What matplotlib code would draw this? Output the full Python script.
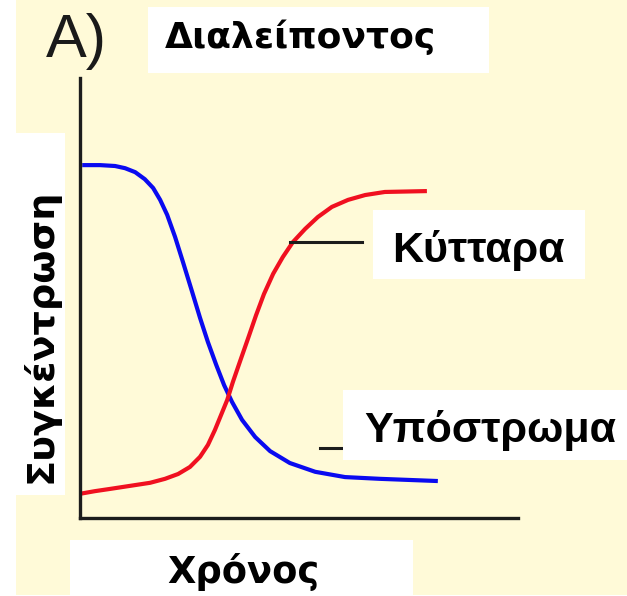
import numpy as np
import matplotlib
matplotlib.use("Agg")
import matplotlib.pyplot as plt
from matplotlib.patches import Rectangle

W, H = 627, 596

# Χρόνος (αυθαίρετες μονάδες) και συγκέντρωση
t_ypostroma = [0.05, 0.46, 0.80, 1.03, 1.26, 1.48, 1.67, 1.83, 1.99, 2.17,
               2.35, 2.56, 2.74, 2.92, 3.11, 3.29, 3.47, 3.70, 4.00, 4.34,
               4.79, 5.37, 6.05, 6.85, 8.17]
c_ypostroma = [8.02, 8.02, 8.00, 7.95, 7.86, 7.70, 7.50, 7.23, 6.89, 6.39,
               5.82, 5.14, 4.55, 4.00, 3.48, 3.02, 2.64, 2.23, 1.84, 1.52,
               1.25, 1.05, 0.93, 0.89, 0.84]

t_kyttara = [0.00, 0.34, 0.68, 1.14, 1.60, 1.94, 2.24, 2.51, 2.74, 2.92,
             3.08, 3.22, 3.36, 3.49, 3.65, 3.84, 4.02, 4.20, 4.41, 4.63,
             4.86, 5.14, 5.43, 5.75, 6.12, 6.51, 6.96, 7.92]
c_kyttara = [0.55, 0.61, 0.66, 0.73, 0.80, 0.89, 1.00, 1.16, 1.39, 1.66,
             2.00, 2.34, 2.68, 3.09, 3.55, 4.09, 4.61, 5.09, 5.55, 5.93,
             6.27, 6.57, 6.84, 7.07, 7.23, 7.34, 7.41, 7.43]

# γραμμές ένδειξης (x αρχή, x τέλος, y)
leader_kyttara = (4.79, 6.44, 6.27)
leader_ypostroma = (5.48, 6.10, 1.59)

title = "Διαλείποντος"
panel = "A)"
xlabel = "Χρόνος"
ylabel = "Συγκέντρωση"
lab_kyttara = "Κύτταρα"
lab_ypostroma = "Υπόστρωμα"

yellow = "#FFFAD8"


def fx(px):
    return px / W


def fy(py):
    return 1 - py / H


def box(fig, x0, y0, x1, y1, color="white", z=1):
    fig.patches.append(Rectangle((fx(x0), fy(y1)), fx(x1) - fx(x0), fy(y0) - fy(y1),
                                 transform=fig.transFigure, facecolor=color,
                                 edgecolor="none", zorder=z))


fig = plt.figure(figsize=(W / 100, H / 100), dpi=100, facecolor="white")
box(fig, 16, 0, 627, 595, yellow, z=-5)

ax = fig.add_axes([fx(80), fy(518), fx(518) - fx(80), fy(78) - fy(518)])
ax.set_facecolor("none")
ax.set_zorder(0)
ax.set_xlim(0, 10)
ax.set_ylim(0, 10)
for s in ["top", "right"]:
    ax.spines[s].set_visible(False)
for s in ["left", "bottom"]:
    ax.spines[s].set_linewidth(2.4)
    ax.spines[s].set_color("#1c1c1c")
    ax.spines[s].set_capstyle("projecting")
ax.set_xticks([])
ax.set_yticks([])

ax.plot(t_ypostroma, c_ypostroma, color="#0a0aF0", lw=3.0, solid_capstyle="butt",
        solid_joinstyle="round", clip_on=False)
ax.plot(t_kyttara, c_kyttara, color="#F01020", lw=3.0, solid_capstyle="butt",
        solid_joinstyle="round", clip_on=False)

ax.plot(leader_kyttara[:2], [leader_kyttara[2]] * 2, color="#1c1c1c", lw=2.2)
ax.plot(leader_ypostroma[:2], [leader_ypostroma[2]] * 2, color="#1c1c1c", lw=2.2)

# λευκά πλαίσια κειμένων
box(fig, 148, 7, 489, 73)
box(fig, 373, 210, 585, 279)
box(fig, 343, 390, 627, 460)
box(fig, 16, 133, 65, 495)
box(fig, 70, 540, 413, 596)

fig.text(fx(46), fy(57), panel, fontsize=44, family="Liberation Sans",
         color="#1a1a1a", va="baseline", ha="left", zorder=3)
fig.text(fx(300), fy(48), title, fontsize=26, family="DejaVu Sans", weight="bold",
         va="baseline", ha="center", zorder=3)
fig.text(fx(478), fy(262), lab_kyttara, fontsize=31, family="Liberation Sans",
         weight="bold", va="baseline", ha="center", zorder=3)
fig.text(fx(490), fy(442), lab_ypostroma, fontsize=31, family="Liberation Sans",
         weight="bold", va="baseline", ha="center", zorder=3)
fig.text(fx(243), fy(583), xlabel, fontsize=26.5, family="DejaVu Sans", weight="bold",
         va="baseline", ha="center", zorder=3)
fig.text(fx(52), fy(336), ylabel, fontsize=27.5, family="DejaVu Sans", weight="bold",
         rotation=90, va="baseline", ha="center", rotation_mode="anchor", zorder=3)

fig.savefig("out.png", dpi=100, facecolor="white")
